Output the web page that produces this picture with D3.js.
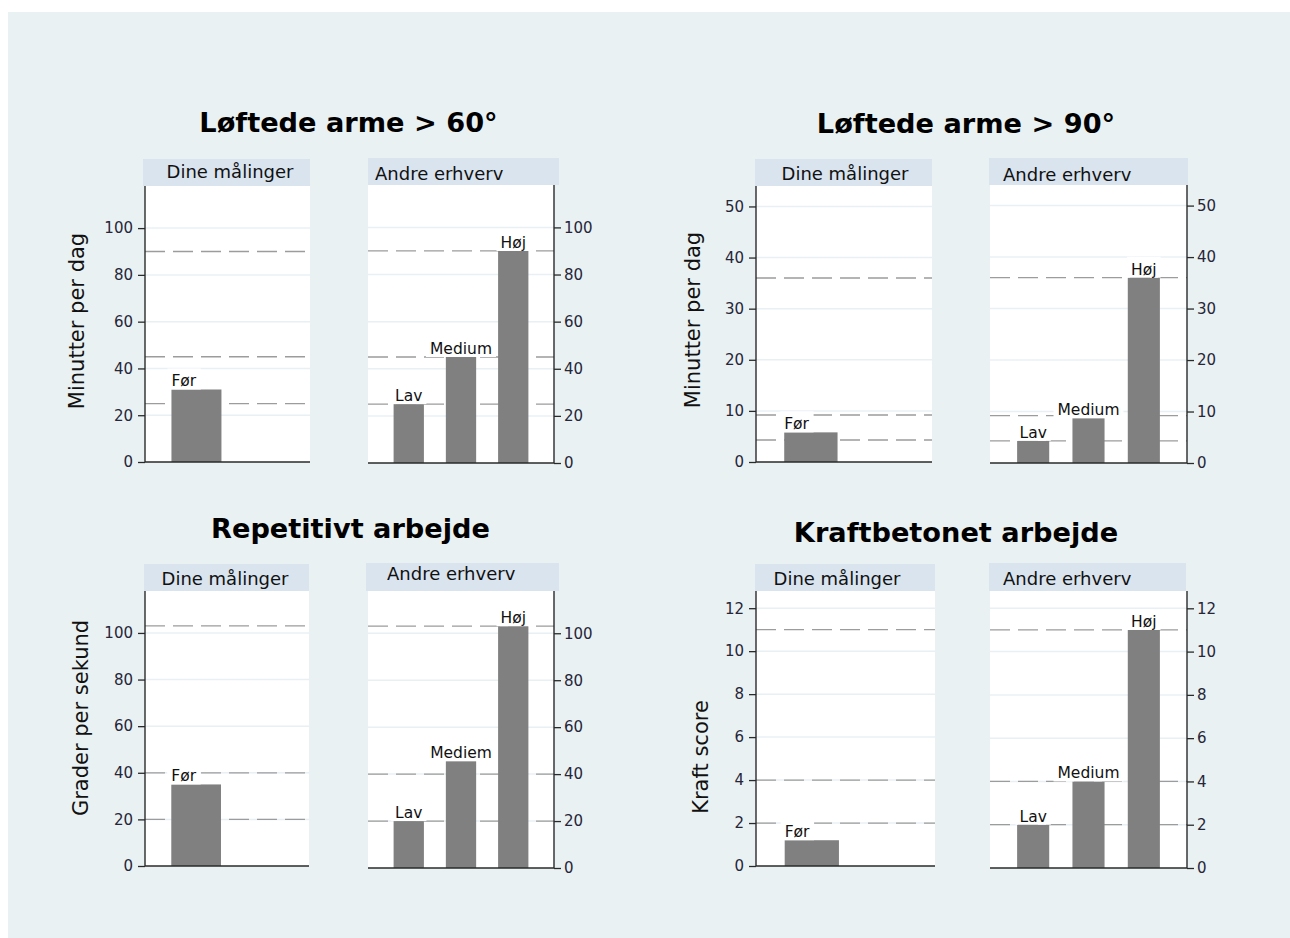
<!DOCTYPE html>
<html>
<head>
<meta charset="utf-8">
<script src="https://cdn.jsdelivr.net/npm/d3@7"></script>
<style>
  html, body { margin: 0; padding: 0; background: #ffffff; }
  svg { display: block; }
  text { font-family: "DejaVu Sans", Verdana, sans-serif; }
</style>
</head>
<body>
<div id="chart"></div>
<script>
// ---------------- DATA ----------------
const titles = ["Løftede arme > 60°", "Løftede arme > 90°", "Repetitivt arbejde", "Kraftbetonet arbejde"];
const yLabels = ["Minutter per dag", "Minutter per dag", "Grader per sekund", "Kraft score"];
const stripLabels = ["Dine målinger", "Andre erhverv"];
const ownCategories = ["Før"];
const ownValues = [31, 5.8, 35, 1.2];
const otherCategories = [
  ["Lav", "Medium", "Høj"],
  ["Lav", "Medium", "Høj"],
  ["Lav", "Mediem", "Høj"],
  ["Lav", "Medium", "Høj"]
];
const otherValues = [
  [25, 45, 90],
  [4.3, 8.7, 36],
  [20, 45.5, 103],
  [2, 4, 11]
];
const refLines = [
  [90, 45, 25],
  [36, 9.2, 4.3],
  [103, 40, 20],
  [11, 4, 2]
];
const yTicks = [
  [0, 20, 40, 60, 80, 100],
  [0, 10, 20, 30, 40, 50],
  [0, 20, 40, 60, 80, 100],
  [0, 2, 4, 6, 8, 10, 12]
];
const yMax = [118, 54, 118, 12.8];

// ---------------- LAYOUT ----------------
const W = 1290, H = 938;
const layout = [
  { title: [348.5, 132], ylab: [84, 321],
    L: { s0: 143, s1: 310, axis: 145, stripTop: 159, top: 186, bottom: 462, tx: 230, ty: 177.5 },
    R: { s0: 368, s1: 559, p0: 368, axis: 554, stripTop: 158, top: 185, bottom: 463, tx: 375, ty: 180 } },
  { title: [966, 133], ylab: [700, 320],
    L: { s0: 755, s1: 932, axis: 756, stripTop: 159, top: 186, bottom: 462, tx: 845, ty: 180 },
    R: { s0: 989, s1: 1188, p0: 990, axis: 1187, stripTop: 158, top: 185, bottom: 463, tx: 1003, ty: 181 } },
  { title: [350.5, 538], ylab: [88, 718],
    L: { s0: 144, s1: 309, axis: 145, stripTop: 564, top: 591, bottom: 866, tx: 225, ty: 585 },
    R: { s0: 366, s1: 559, p0: 368, axis: 554, stripTop: 563, top: 591, bottom: 868, tx: 387, ty: 580 } },
  { title: [956, 542], ylab: [708, 757],
    L: { s0: 755, s1: 935, axis: 756, stripTop: 564, top: 591, bottom: 866, tx: 837, ty: 585 },
    R: { s0: 989, s1: 1186, p0: 990, axis: 1187, stripTop: 563, top: 591, bottom: 868, tx: 1003, ty: 585 } }
];

const C = {
  bg: "#e9f1f3", strip: "#d9e4ef", plot: "#ffffff", grid: "#e8f0f4",
  ref: "#9c9c9c", bar: "#808080", axis: "#2a2a2a", tick: "#262638", text: "#111111"
};

const svg = d3.select("#chart").append("svg").attr("width", W).attr("height", H);
svg.append("rect").attr("width", W).attr("height", H).attr("fill", "#ffffff");
svg.append("rect").attr("x", 8).attr("y", 12).attr("width", W - 8).attr("height", H - 12).attr("fill", C.bg);

function drawLabel(g, txt, x, anchor, barTop) {
  const t = g.append("text")
    .attr("x", x).attr("y", barTop - 3)
    .attr("text-anchor", anchor)
    .attr("font-size", 15.5)
    .attr("fill", C.text)
    .text(txt);
  const bb = t.node().getBBox();
  g.insert("rect", () => t.node())
    .attr("x", bb.x - 4).attr("y", bb.y - 4)
    .attr("width", bb.width + 8).attr("height", Math.max(0, barTop - (bb.y - 4)))
    .attr("fill", "#ffffff");
}

layout.forEach((P, i) => {
  const g = svg.append("g");

  // title
  g.append("text").attr("x", P.title[0]).attr("y", P.title[1])
    .attr("text-anchor", "middle").attr("font-size", 27.2).attr("font-weight", "bold")
    .attr("fill", "#000").text(titles[i]);

  // y label
  g.append("text")
    .attr("transform", `translate(${P.ylab[0]},${P.ylab[1]}) rotate(-90)`)
    .attr("text-anchor", "middle").attr("font-size", 21).attr("fill", C.text)
    .text(yLabels[i]);

  // ---------- left subpanel (own measurements) ----------
  {
    const L = P.L;
    const y = d3.scaleLinear().domain([0, yMax[i]]).range([L.bottom, L.top]);
    const x = d3.scaleBand().domain(ownCategories).range([L.axis, L.s1])
      .paddingInner(0).paddingOuter(1.15).align(0.23);
    const sg = g.append("g");
    sg.append("rect").attr("x", L.s0).attr("y", L.stripTop).attr("width", L.s1 - L.s0)
      .attr("height", L.top - L.stripTop).attr("fill", C.strip);
    sg.append("text").attr("x", L.tx).attr("y", L.ty).attr("text-anchor", "middle")
      .attr("font-size", 18).attr("fill", C.text).text(stripLabels[0]);
    sg.append("rect").attr("x", L.axis).attr("y", L.top).attr("width", L.s1 - L.axis)
      .attr("height", L.bottom - L.top).attr("fill", C.plot);
    // grid
    sg.selectAll(".grid").data(yTicks[i].filter(d => d > 0)).join("line")
      .attr("x1", L.axis).attr("x2", L.s1).attr("y1", d => y(d)).attr("y2", d => y(d))
      .attr("stroke", C.grid).attr("stroke-width", 1.5);
    // reference lines
    sg.selectAll(".ref").data(refLines[i]).join("line")
      .attr("x1", L.axis).attr("x2", L.s1).attr("y1", d => y(d)).attr("y2", d => y(d))
      .attr("stroke", C.ref).attr("stroke-width", 1.3).attr("stroke-dasharray", "20,8");
    // bars
    sg.selectAll(".bar").data(ownCategories.map((c, k) => ({ c, v: ownValues[i] }))).join("rect")
      .attr("x", d => x(d.c)).attr("width", x.bandwidth())
      .attr("y", d => y(d.v)).attr("height", d => y(0) - y(d.v))
      .attr("fill", C.bar);
    ownCategories.forEach(c => drawLabel(sg, c, x(c), "start", y(ownValues[i])));
    // axis
    const ax = sg.append("g").attr("transform", `translate(${L.axis},0)`)
      .call(d3.axisLeft(y).tickValues(yTicks[i]).tickSize(7).tickPadding(5));
    ax.select(".domain").attr("d", `M0,${L.top}V${L.bottom}`).attr("stroke", C.axis).attr("stroke-width", 1.4);
    ax.selectAll(".tick line").attr("stroke", C.axis).attr("stroke-width", 1.3);
    ax.selectAll(".tick text").attr("font-size", 15).attr("fill", C.tick)
      .attr("font-family", "DejaVu Sans");
    sg.append("line").attr("x1", L.axis).attr("x2", L.s1).attr("y1", L.bottom).attr("y2", L.bottom)
      .attr("stroke", C.axis).attr("stroke-width", 1.4);
  }

  // ---------- right subpanel (other occupations) ----------
  {
    const R = P.R;
    const y = d3.scaleLinear().domain([0, yMax[i]]).range([R.bottom, R.top]);
    const x = d3.scaleBand().domain(otherCategories[i]).range([R.p0, R.axis])
      .paddingInner(0.42).paddingOuter(0.49);
    const sg = g.append("g");
    sg.append("rect").attr("x", R.s0).attr("y", R.stripTop).attr("width", R.s1 - R.s0)
      .attr("height", R.top - R.stripTop).attr("fill", C.strip);
    sg.append("text").attr("x", R.tx).attr("y", R.ty).attr("text-anchor", "start")
      .attr("font-size", 18).attr("fill", C.text).text(stripLabels[1]);
    sg.append("rect").attr("x", R.p0).attr("y", R.top).attr("width", R.axis - R.p0)
      .attr("height", R.bottom - R.top).attr("fill", C.plot);
    sg.selectAll(".grid").data(yTicks[i].filter(d => d > 0)).join("line")
      .attr("x1", R.p0).attr("x2", R.axis).attr("y1", d => y(d)).attr("y2", d => y(d))
      .attr("stroke", C.grid).attr("stroke-width", 1.5);
    sg.selectAll(".ref").data(refLines[i]).join("line")
      .attr("x1", R.p0).attr("x2", R.axis).attr("y1", d => y(d)).attr("y2", d => y(d))
      .attr("stroke", C.ref).attr("stroke-width", 1.3).attr("stroke-dasharray", "20,8");
    const data = otherCategories[i].map((c, k) => ({ c, v: otherValues[i][k] }));
    sg.selectAll(".bar").data(data).join("rect")
      .attr("x", d => x(d.c)).attr("width", x.bandwidth())
      .attr("y", d => y(d.v)).attr("height", d => y(0) - y(d.v))
      .attr("fill", C.bar);
    data.forEach(d => drawLabel(sg, d.c, x(d.c) + x.bandwidth() / 2, "middle", y(d.v)));
    const ax = sg.append("g").attr("transform", `translate(${R.axis},0)`)
      .call(d3.axisRight(y).tickValues(yTicks[i]).tickSize(7).tickPadding(3));
    ax.select(".domain").attr("d", `M0,${R.top}V${R.bottom}`).attr("stroke", C.axis).attr("stroke-width", 1.4);
    ax.selectAll(".tick line").attr("stroke", C.axis).attr("stroke-width", 1.3);
    ax.selectAll(".tick text").attr("font-size", 15).attr("fill", C.tick)
      .attr("font-family", "DejaVu Sans");
    sg.append("line").attr("x1", R.p0).attr("x2", R.axis).attr("y1", R.bottom).attr("y2", R.bottom)
      .attr("stroke", C.axis).attr("stroke-width", 1.4);
  }
});
</script>
</body>
</html>
